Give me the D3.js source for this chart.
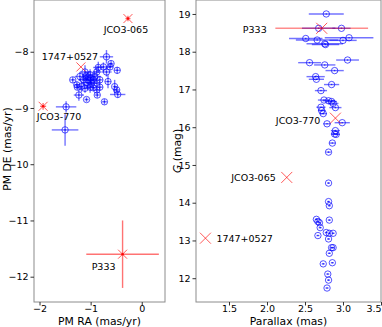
<!DOCTYPE html>
<html>
<head>
<meta charset="UTF-8">
<title></title>
<style>
    body { margin: 0; background: #fff; }
    text { font-family: "DejaVu Sans", sans-serif; }
</style>
</head>
<body>
<div id="chart"></div>
<script src="https://cdn.jsdelivr.net/npm/d3@7"></script>
<script>
// ---- data: cluster members, proper motions (mas/yr) ----
var pmRA = [-0.69, -0.60, -0.75, -0.85, -0.48, -0.88, -1.11, -1.01, -1.09, -1.35,
            -1.14, -1.05, -0.95, -0.66, -0.88, -1.27, -1.01, -1.11, -0.82, -0.53,
            -0.88, -0.49, -1.23, -0.87, -0.47, -1.08, -0.73, -1.48, -1.50, -1.21,
            -1.18, -0.98, -0.92, -1.07, -0.82, -0.95, -1.26, -0.69, -0.62, -1.00];
var pmDE = [-8.09, -8.21, -8.27, -8.28, -8.33, -8.36, -8.36, -8.41, -8.43, -8.50,
            -8.50, -8.50, -8.50, -8.53, -8.56, -8.59, -8.63, -8.65, -8.63, -8.62,
            -8.68, -8.68, -8.77, -8.77, -8.76, -8.85, -8.89, -8.98, -9.39, -8.44,
            -8.62, -8.56, -8.44, -8.55, -8.50, -8.64, -8.63, -8.36, -8.27, -8.47];
var pmRAerr = [0.13, 0.05, 0.15, 0.10, 0.06, 0.08, 0.10, 0.08, 0.06, 0.05,
               0.10, 0.12, 0.08, 0.06, 0.05, 0.06, 0.08, 0.10, 0.06, 0.04,
               0.05, 0.06, 0.10, 0.05, 0.15, 0.04, 0.05, 0.20, 0.26, 0.10,
               0.06, 0.08, 0.12, 0.10, 0.06, 0.05, 0.05, 0.10, 0.06, 0.15];
var pmDEerr = [0.12, 0.05, 0.08, 0.10, 0.06, 0.08, 0.12, 0.10, 0.08, 0.05,
               0.10, 0.15, 0.08, 0.12, 0.05, 0.06, 0.10, 0.08, 0.06, 0.12,
               0.05, 0.06, 0.10, 0.05, 0.06, 0.04, 0.05, 0.10, 0.28, 0.08,
               0.10, 0.08, 0.10, 0.12, 0.06, 0.05, 0.05, 0.08, 0.06, 0.12];

// ---- data: cluster members, parallax (mas) and G (mag) ----
var plx = [2.78, 2.98, 2.68, 2.51, 2.66, 3.00, 3.08, 2.76, 2.77, 2.56,
           2.76, 3.06, 2.89, 2.64, 2.65, 2.85, 2.71, 2.75, 2.81, 2.85,
           2.87, 2.90, 2.71, 2.72, 2.74, 2.79, 2.99, 2.90, 2.89, 2.91,
           2.86, 2.81, 2.81, 2.81, 2.82, 2.82, 2.65, 2.67, 2.69, 2.70,
           2.78, 2.82, 2.87, 2.67, 2.81, 2.85, 2.87, 2.82, 2.86, 2.74,
           2.80, 2.81, 2.79];
var gMag = [19.00, 18.62, 18.62, 18.35, 18.31, 18.30, 18.37, 18.21, 18.19, 17.71,
            17.65, 17.78, 17.50, 17.34, 17.27, 17.13, 16.97, 16.72, 16.70, 16.68,
            16.63, 16.52, 16.53, 16.44, 16.36, 16.09, 16.12, 15.91, 15.82, 15.81,
            15.58, 15.34, 14.52, 14.03, 13.92, 13.54, 13.56, 13.50, 13.47, 13.34,
            13.21, 13.19, 13.19, 13.13, 13.04, 12.81, 12.81, 12.66, 12.41, 12.38,
            12.11, 11.95, 11.74];
var plxErr = [0.23, 0.12, 0.22, 0.22, 0.28, 0.18, 0.32, 0.24, 0.18, 0.15,
              0.14, 0.15, 0.12, 0.12, 0.10, 0.10, 0.08, 0.08, 0.08, 0.07,
              0.07, 0.08, 0.06, 0.05, 0.05, 0.05, 0.10, 0.06, 0.05, 0.05,
              0.04, 0.03, 0.02, 0.02, 0.02, 0.02, 0.02, 0.02, 0.02, 0.02,
              0.02, 0.02, 0.02, 0.02, 0.02, 0.02, 0.02, 0.02, 0.02, 0.02,
              0.02, 0.02, 0.02];

// ---- data: named objects ----
var names = ["JCO3-065", "1747+0527", "JCO3-770", "P333"];
var redRA = [-0.27, -1.19, -1.93, -0.375];
var redDE = [-7.41, -8.27, -8.97, -11.6];
var redRAerr = [0.05, 0, 0.06, 0.71];
var redDEerr = [0.05, 0, 0.06, 0.6];
var redPlx = [2.26, 1.19, 2.90, 2.72];
var redG = [14.67, 13.06, 16.24, 18.62];
var redPlxErr = [0, 0, 0, 0.61];

// ticks
var raTicks = [-2, -1, 0];
var deTicks = [-8, -9, -10, -11, -12];
var plxTicks = [1.5, 2.0, 2.5, 3.0, 3.5];
var gTicks = [12, 13, 14, 15, 16, 17, 18, 19];

var W = 382, H = 327;
var svg = d3.select("#chart").append("svg")
    .attr("width", W).attr("height", H);

var blue = "#0000ff", red = "#ff0000";

// scales
var xL = d3.scaleLinear().domain([-2.108, 0.455]).range([34, 165]);
var yL = d3.scaleLinear().domain([-7.08, -12.45]).range([0, 302]);
var xR = d3.scaleLinear().domain([1.066, 3.5]).range([196, 381]);
var yR = d3.scaleLinear().domain([19.37, 11.37]).range([0, 302]);

function frame(x, y) {
    svg.append("rect")
        .attr("x", x.range()[0]).attr("y", y.range()[0])
        .attr("width", x.range()[1] - x.range()[0])
        .attr("height", y.range()[1] - y.range()[0])
        .attr("fill", "none").attr("stroke", "#8c8c8c").attr("stroke-width", 1);
}

function axes(x, y, xt, yt, xfmt) {
    var gx = svg.append("g").attr("transform", "translate(0," + y.range()[1] + ")")
        .call(d3.axisBottom(x).tickValues(xt).tickSize(3.5).tickPadding(0).tickFormat(xfmt));
    var gy = svg.append("g").attr("transform", "translate(" + x.range()[0] + ",0)")
        .call(d3.axisLeft(y).tickValues(yt).tickSize(3.5).tickPadding(2).tickFormat(d3.format("d")));
    [gx, gy].forEach(function (g) {
        g.select(".domain").remove();
        g.selectAll("line").attr("stroke", "#333");
        g.selectAll("text").attr("font-size", 9.5).attr("fill", "#000")
            .style("font-family", "DejaVu Sans");
    });
    // keep the last x label inside the picture
    gx.selectAll(".tick text").filter(function (d) { return x(d) > 375; })
        .attr("text-anchor", "end").attr("x", 0);
}

// ---------- left panel ----------
frame(xL, yL);
axes(xL, yL, raTicks, deTicks, d3.format("d"));

var gl = svg.append("g");
var idxL = d3.range(pmRA.length);
gl.selectAll("line.ex").data(idxL).join("line")
    .attr("x1", function (i) { return xL(pmRA[i] - pmRAerr[i]); })
    .attr("x2", function (i) { return xL(pmRA[i] + pmRAerr[i]); })
    .attr("y1", function (i) { return yL(pmDE[i]); })
    .attr("y2", function (i) { return yL(pmDE[i]); })
    .attr("stroke", blue).attr("stroke-opacity", 0.55).attr("stroke-width", 1.4);
gl.selectAll("line.ey").data(idxL).join("line")
    .attr("x1", function (i) { return xL(pmRA[i]); })
    .attr("x2", function (i) { return xL(pmRA[i]); })
    .attr("y1", function (i) { return yL(pmDE[i] - pmDEerr[i]); })
    .attr("y2", function (i) { return yL(pmDE[i] + pmDEerr[i]); })
    .attr("stroke", blue).attr("stroke-opacity", 0.55).attr("stroke-width", 1.4);
gl.selectAll("circle.c").data(idxL).join("circle")
    .attr("cx", function (i) { return xL(pmRA[i]); })
    .attr("cy", function (i) { return yL(pmDE[i]); })
    .attr("r", 3.2).attr("fill", "none").attr("stroke", blue)
    .attr("stroke-opacity", 0.75).attr("stroke-width", 0.9);
gl.selectAll("circle.d").data(idxL).join("circle")
    .attr("cx", function (i) { return xL(pmRA[i]); })
    .attr("cy", function (i) { return yL(pmDE[i]); })
    .attr("r", 0.8).attr("fill", blue).attr("fill-opacity", 0.7);

// ---------- right panel ----------
frame(xR, yR);
axes(xR, yR, plxTicks, gTicks, d3.format(".1f"));

var gr = svg.append("g");
var idxR = d3.range(plx.length);
gr.selectAll("line.ex").data(idxR).join("line")
    .attr("x1", function (i) { return xR(plx[i] - plxErr[i]); })
    .attr("x2", function (i) { return xR(plx[i] + plxErr[i]); })
    .attr("y1", function (i) { return yR(gMag[i]); })
    .attr("y2", function (i) { return yR(gMag[i]); })
    .attr("stroke", blue).attr("stroke-opacity", 0.55).attr("stroke-width", 1.4);
gr.selectAll("circle.c").data(idxR).join("circle")
    .attr("cx", function (i) { return xR(plx[i]); })
    .attr("cy", function (i) { return yR(gMag[i]); })
    .attr("r", 3.2).attr("fill", "none").attr("stroke", blue)
    .attr("stroke-opacity", 0.75).attr("stroke-width", 0.9);
gr.selectAll("circle.d").data(idxR).join("circle")
    .attr("cx", function (i) { return xR(plx[i]); })
    .attr("cy", function (i) { return yR(gMag[i]); })
    .attr("r", 0.8).attr("fill", blue).attr("fill-opacity", 0.7);

// ---------- named objects ----------
function xMark(g, cx, cy, s) {
    g.append("path")
        .attr("d", "M" + (cx - s) + "," + (cy - s) + "L" + (cx + s) + "," + (cy + s) +
                   "M" + (cx - s) + "," + (cy + s) + "L" + (cx + s) + "," + (cy - s))
        .attr("stroke", red).attr("stroke-opacity", 0.65).attr("stroke-width", 1);
}

// label placement (pixels, relative to the point)
var labL = [[-2, 14, "middle"], [-11, -7, "middle"], [16, 13.5, "middle"], [-19, 16, "middle"]];
var labR = [[-11, 3.5, "end"], [11, 3.5, "start"], [-15, 6, "end"], [-55, 5, "end"]];

names.forEach(function (n, i) {
    var cx = xL(redRA[i]), cy = yL(redDE[i]);
    if (redRAerr[i] > 0) {
        gl.append("line").attr("x1", xL(redRA[i] - redRAerr[i])).attr("x2", xL(redRA[i] + redRAerr[i]))
            .attr("y1", cy).attr("y2", cy)
            .attr("stroke", red).attr("stroke-opacity", 0.55).attr("stroke-width", 1.4);
        gl.append("line").attr("x1", cx).attr("x2", cx)
            .attr("y1", yL(redDE[i] - redDEerr[i])).attr("y2", yL(redDE[i] + redDEerr[i]))
            .attr("stroke", red).attr("stroke-opacity", 0.55).attr("stroke-width", 1.4);
        gl.append("circle").attr("cx", cx).attr("cy", cy).attr("r", 1.3)
            .attr("fill", red).attr("fill-opacity", 0.8);
    }
    xMark(gl, cx, cy, 4.5);
    gl.append("text").attr("x", cx + labL[i][0]).attr("y", cy + labL[i][1])
        .attr("text-anchor", labL[i][2]).attr("font-size", 9.5).text(n);

    var rx = xR(redPlx[i]), ry = yR(redG[i]);
    if (redPlxErr[i] > 0) {
        gr.append("line").attr("x1", xR(redPlx[i] - redPlxErr[i])).attr("x2", xR(redPlx[i] + redPlxErr[i]))
            .attr("y1", ry).attr("y2", ry)
            .attr("stroke", red).attr("stroke-opacity", 0.45).attr("stroke-width", 1.4);
    }
    xMark(gr, rx, ry, 5.5);
    gr.append("text").attr("x", rx + labR[i][0]).attr("y", ry + labR[i][1])
        .attr("text-anchor", labR[i][2]).attr("font-size", 9.5).text(n);
});

// ---------- axis titles ----------
svg.append("text").attr("x", 99.5).attr("y", 324.5).attr("text-anchor", "middle")
    .attr("font-size", 10.8).text("PM RA (mas/yr)");
svg.append("text").attr("x", 288.5).attr("y", 324.5).attr("text-anchor", "middle")
    .attr("font-size", 10.8).text("Parallax (mas)");
svg.append("text").attr("transform", "translate(11,149) rotate(-90)")
    .attr("text-anchor", "middle").attr("font-size", 10.8).text("PM DE (mas/yr)");
var gt = svg.append("text").attr("transform", "translate(180.5,151) rotate(-90)")
    .attr("text-anchor", "middle").attr("font-size", 10.8);
gt.append("tspan").attr("font-style", "italic").text("G");
gt.append("tspan").text(" (mag)");
</script>
</body>
</html>
